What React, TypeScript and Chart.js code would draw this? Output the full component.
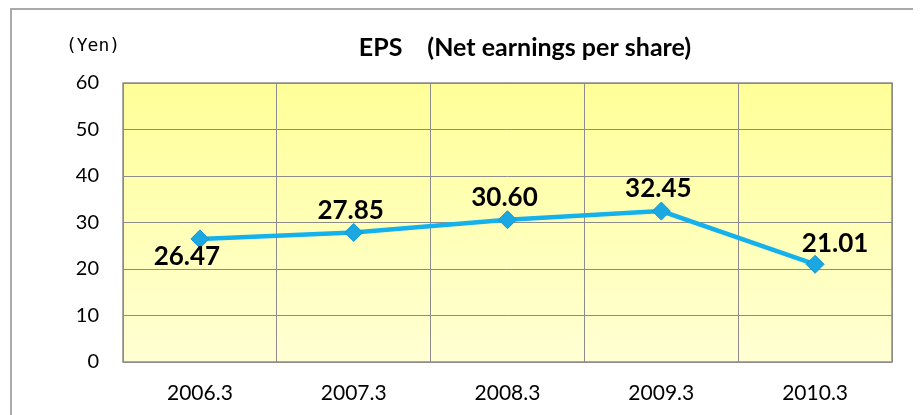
import React, { useEffect, useRef } from "react";
import { Chart, registerables } from "chart.js";

Chart.register(...registerables);

const categories = ["2006.3", "2007.3", "2008.3", "2009.3", "2010.3"];
const epsValues = [26.47, 27.85, 30.6, 32.45, 21.01];
const valueLabels = ["26.47", "27.85", "30.60", "32.45", "21.01"];
const labelPlacement = ["below-left", "above", "above", "above", "above-right"];
const yTicks = [0, 10, 20, 30, 40, 50, 60];
const titleText = "EPS\u3000(Net earnings per share)";
const unitText = "(Yen)";

const placementOffsets: Record<string, [number, number]> = {
  "below-left": [-13, 18],
  above: [-3, -22],
  "above-right": [20, -21],
};

const decorPlugin = {
  id: "decor",
  beforeDraw(chart: any) {
    const { ctx, chartArea: a } = chart;
    ctx.save();
    const g = ctx.createLinearGradient(0, a.top, 0, a.bottom);
    g.addColorStop(0, "#FFFF99");
    g.addColorStop(1, "#FFFFD4");
    ctx.fillStyle = g;
    ctx.fillRect(a.left, a.top, a.right - a.left, a.bottom - a.top);
    ctx.restore();
  },
  beforeDatasetsDraw(chart: any) {
    const { ctx, chartArea: a } = chart;
    ctx.save();
    ctx.strokeStyle = "#8c8c8c";
    ctx.lineWidth = 1.5;
    ctx.strokeRect(a.left, a.top, a.right - a.left, a.bottom - a.top);
    ctx.restore();
  },
  afterDatasetsDraw(chart: any) {
    const { ctx } = chart;
    const meta = chart.getDatasetMeta(0);
    ctx.save();
    ctx.fillStyle = "#000";
    ctx.font = "bold 26px Lato, 'Noto Sans'";
    ctx.textAlign = "center";
    ctx.textBaseline = "middle";
    meta.data.forEach((pt: any, i: number) => {
      const off = placementOffsets[labelPlacement[i]] || [0, -22];
      ctx.fillText(valueLabels[i], pt.x + off[0], pt.y + off[1]);
    });
    // title
    ctx.font = "bold 25px Lato, 'Noto Sans CJK JP'";
    ctx.fillText(titleText, 513, 38);
    // unit
    ctx.font = "18px 'DejaVu Sans Mono'";
    ctx.fillText(unitText, 81, 36);
    ctx.restore();
  },
};

export default function App() {
  const ref = useRef<HTMLCanvasElement | null>(null);
  useEffect(() => {
    if (!ref.current) return;
    const chart = new Chart(ref.current, {
      type: "line",
      data: {
        labels: categories,
        datasets: [
          {
            data: epsValues,
            borderColor: "#14B1EC",
            borderWidth: 4.5,
            pointStyle: "rectRot",
            pointRadius: 9,
            pointBackgroundColor: "#1BA8E2",
            pointBorderColor: "#1396CF",
            pointBorderWidth: 1,
            tension: 0,
          },
        ],
      },
      options: {
        responsive: false,
        animation: false,
        layout: { padding: { top: 73, right: 120, left: 0, bottom: 0 } },
        plugins: { legend: { display: false }, tooltip: { enabled: false }, title: { display: false } },
        scales: {
          x: {
            offset: true,
            grid: { offset: true, color: "#8c8c8c", lineWidth: 1, drawTicks: false },
            border: { display: false },
            ticks: { color: "#000", font: { family: "Lato", size: 21 }, padding: 19 },
            afterFit: (s: any) => {
              s.height = 53;
            },
          },
          y: {
            min: 0,
            max: 60,
            afterBuildTicks: (s: any) => {
              s.ticks = yTicks.map((v) => ({ value: v }));
            },
            grid: { color: "#8c8c8c", lineWidth: 1, drawTicks: false },
            border: { display: false },
            ticks: { color: "#000", font: { family: "Lato", size: 20 }, padding: 24 },
            afterFit: (s: any) => {
              s.width = 111;
            },
          },
        },
      },
      plugins: [decorPlugin],
    } as any);
    return () => chart.destroy();
  }, []);

  return (
    <div style={{ width: 905, height: 407, overflow: "hidden" }}>
      <div
        style={{
          marginLeft: 2,
          borderTop: "2px solid #a9a9a9",
          borderLeft: "2px solid #a9a9a9",
          width: 1000,
          height: 405,
          background: "#fff",
        }}
      >
        <canvas ref={ref} width={1000} height={405} style={{ display: "block" }} />
      </div>
    </div>
  );
}
